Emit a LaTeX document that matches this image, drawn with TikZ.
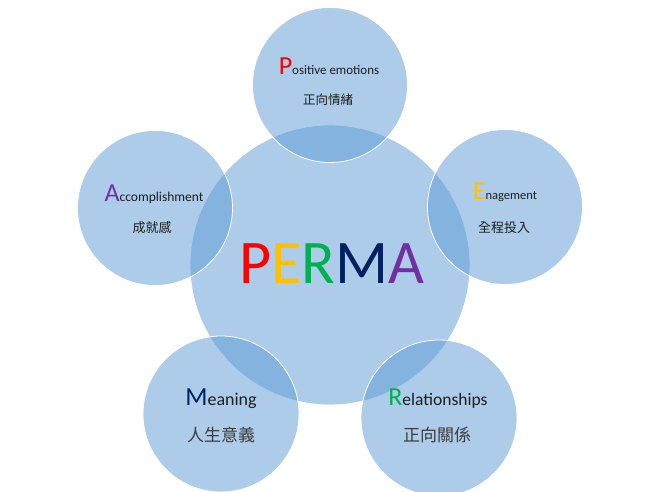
\documentclass[tikz,border=0pt]{standalone}
\usepackage{fontspec}
\setmainfont{Carlito}
\newfontfamily\cjk{Noto Sans CJK TC}
\definecolor{cfill}{RGB}{91,155,213}
\definecolor{cP}{RGB}{255,0,0}
\definecolor{cE}{RGB}{255,192,0}
\definecolor{cR}{RGB}{0,176,80}
\definecolor{cM}{RGB}{0,32,96}
\definecolor{cA}{RGB}{112,48,160}
\definecolor{ctext}{RGB}{30,30,30}
\definecolor{ctextb}{RGB}{60,60,60}
\newcommand{\fs}[1]{\fontsize{#1}{#1}\selectfont}
\begin{document}
\begin{tikzpicture}[x=1pt,y=-1pt,
  bubble/.style={circle,fill=cfill,fill opacity=0.5,draw=white,line width=0.8pt,inner sep=0pt},
  lbl/.style={anchor=base,inner sep=0pt,text=ctext},
  cn/.style={inner sep=0pt,text=ctext,font=\cjk}]
\useasboundingbox (0,0) rectangle (659,492);
\fill[white] (0,0) rectangle (659,492);
\node[bubble,minimum size=280pt] (c) at (330,265) {};
\node[bubble,minimum size=155pt] (pc) at (330,85) {};
\node[bubble,minimum size=155pt] (ec) at (505,207) {};
\node[bubble,minimum size=155pt] (ac) at (155,208) {};
\node[bubble,minimum size=156pt] (mc) at (221,414) {};
\node[bubble,minimum size=156pt] (rc) at (439,418) {};
\node[anchor=base,inner sep=0pt] (perma) at (332,283) {\fs{62}\textcolor{cP}{P}\textcolor{cE}{E}\textcolor{cR}{R}\textcolor{cM}{M}\textcolor{cA}{A}};
\node[lbl] (pt) at (329,75) {{\fs{26}\textcolor{cP}{P}}{\fs{13}ositive emotions}};
\node[cn] (pz) at (328,100) {\fs{12.5}正向情緒};
\node[lbl] (et) at (505,200) {{\fs{26}\textcolor{cE}{E}}{\fs{12.5}nagement}};
\node[cn] (ez) at (504,228) {\fs{13}全程投入};
\node[lbl] (at) at (154,201) {{\fs{26}\textcolor{cA}{A}}{\fs{13.5}ccomplishment}};
\node[cn] (az) at (152,228) {\fs{13}成就感};
\node[lbl] (mt) at (221,405) {{\fs{26}\textcolor{cM}{M}}{\fs{18}eaning}};
\node[cn,text=ctextb] (mz) at (221,435) {\fs{17}人生意義};
\node[lbl] (rt) at (438,405) {{\fs{26}\textcolor{cR}{R}}{\fs{17.5}elationships}};
\node[cn,text=ctextb] (rz) at (437,435) {\fs{17}正向關係};
\end{tikzpicture}
\end{document}
